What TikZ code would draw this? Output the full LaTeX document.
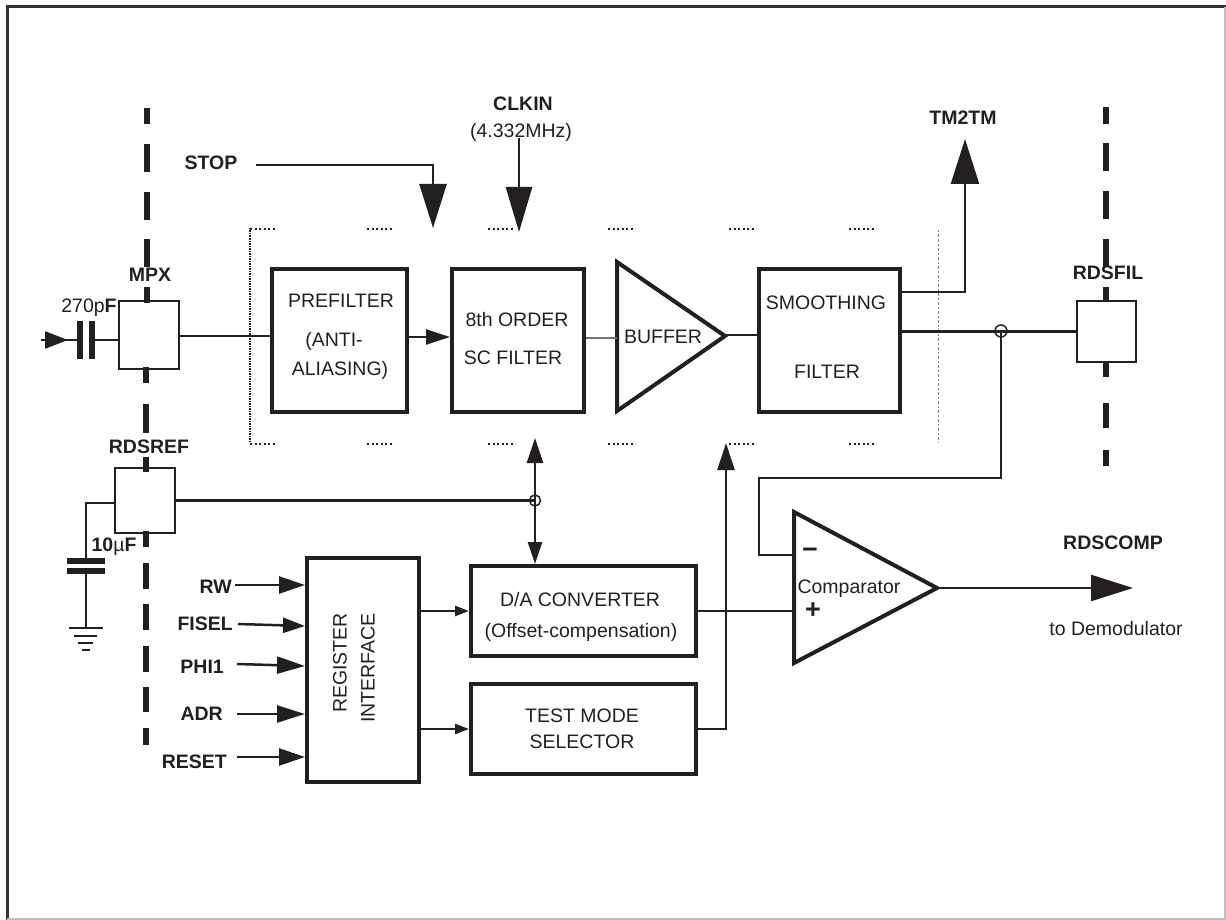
\documentclass[tikz,border=0pt]{standalone}
\usepackage{fontspec}
\setmainfont{Liberation Sans}
\usepackage{tikz}
\usetikzlibrary{positioning,arrows.meta}
\definecolor{ink}{HTML}{231F20}

\begin{document}
\begin{tikzpicture}[
    x=1pt, y=-1pt,
    ink,
    lbl/.style={font=\fontsize{19.5}{22}\selectfont, inner sep=0pt, text=ink},
    boldlbl/.style={font=\fontsize{19.5}{22}\selectfont\bfseries, inner sep=0pt, text=ink},
    box/.style={draw=ink, line width=4pt, minimum width=#1, minimum height=143pt, inner sep=0pt},
    wbox/.style={draw=ink, line width=4pt, minimum width=225pt, minimum height=90pt, inner sep=0pt},
    padbox/.style={draw=ink, line width=2.5pt, minimum width=60pt, minimum height=#1, inner sep=0pt},
    wire/.style={draw=ink, line width=2.5pt},
    junction/.style={circle, draw=ink, line width=1.5pt, minimum size=12pt, inner sep=0pt},
    tri/.style={draw=ink, line width=4pt, miter limit=4},
    pad line/.style={draw=ink, line width=6.5pt},
    plate/.style={draw=ink, line width=6pt},
    tick/.style={draw=ink, line width=2pt, dash pattern=on 2pt off 2.5pt},
    hugetip/.style={-{Triangle[length=44pt,width=27pt]}},
    inputtip/.style={-{Triangle[length=26pt,width=17pt]}},
    smalltip/.style={-{Triangle[length=14pt,width=10pt]}}
]
\useasboundingbox (0,0) rectangle (1226,920);

% frame
\draw[draw=black!80, line width=3pt] (7,920) -- (7,7) -- (1226,7);
\draw[draw=black!25, line width=1.5pt] (1225,7) -- (1225,919) -- (7,919);

% pad lines
\foreach \a/\b in {108/124,144/172,192/220,239/267,287/303}
    \draw[pad line] (147,\a) -- (147,\b);
\foreach \a/\b in {367/383,404/433,457/472,531/547,563/589,604/630,646/672,687/712,728/745}
    \draw[pad line] (146,\a) -- (146,\b);
\foreach \a/\b in {107/124,143/171,191/219,239/267,287/302,363/377,403/428,450/466}
    \draw[pad line] (1106,\a) -- (1106,\b);

% analog part outline
\draw[tick, dash pattern=on 1.5pt off 1pt] (250,228) -- (250,443);
\foreach \x in {250,367,488,608,729,849} {
    \draw[tick] (\x,229) -- ++(27,0);
    \draw[tick] (\x,444) -- ++(27,0);
}
\draw[draw=black!50, line width=1pt, dash pattern=on 2.5pt off 2pt] (938,230) -- (938,443);

% filter chain
\node[box=135pt] (prefilter) at (339.5,340.5) {};
\node[box=132pt, right=41pt of prefilter] (scfilter) {};
\node[box=141pt, right=171pt of scfilter] (smooth) {};
\coordinate (bufin) at (617,338);
\coordinate (bufout) at (725,335);
\draw[tri] (617,262) -- (725,336) -- (617,411) -- cycle;

\node[lbl] (pretxt) at (341,301) {PREFILTER};
\node[lbl] (antitxt) at (334,341) {(ANTI-};
\node[lbl] (aliastxt) at (340,370) {ALIASING)};
\node[lbl] (eighttxt) at (517,320) {8th ORDER};
\node[lbl] (sctxt) at (513,358) {SC FILTER};
\node[lbl] (buftxt) at (663,337) {BUFFER};
\node[lbl] (smtxt) at (826,303) {SMOOTHING};
\node[lbl] (filtxt) at (827,372) {FILTER};

% pads
\node[padbox=68pt] (mpx) at (149,335) {};
\node[padbox=65pt] (rdsref) at (145,500.5) {};
\node[padbox=61pt, minimum width=59pt] (rdsfil) at (1106.5,331.5) {};
\node[boldlbl] (mpxtxt) at (150,275) {MPX};
\node[boldlbl] (rdsreftxt) at (149,447) {RDSREF};
\node[boldlbl] (rdsfiltxt) at (1108,273) {RDSFIL};

% input capacitor
\coordinate (mpxin) at (41,340);
\coordinate (intip) at (68,340);
\coordinate (capa) at (79.5,340);
\coordinate (capb) at (91.5,340);
\coordinate (mpxout) at (179,336);
\draw[wire] (mpxin) -- (capa);
\draw[wire, -{Triangle[length=23pt,width=17pt]}] (mpxin) -- (intip);
\draw[plate] (79.5,321) -- (79.5,359);
\draw[plate] (91.5,321) -- (91.5,359);
\draw[wire] (capb) -- (mpx.west |- capb);
\node[lbl] (cftxt) at (89,308) {270p\textbf{F}};
\draw[wire] (mpxout) -- (prefilter.west |- mpxout);

% lower blocks
\node[draw=ink, line width=4pt, minimum width=112pt, minimum height=224pt, inner sep=0pt] (reg) at (363,670) {};
\node[wbox] (da) at (583.5,611) {};
\node[wbox, below=24pt of da] (test) {};
\node[lbl, rotate=90] (regtxt) at (340,663) {REGISTER};
\node[lbl, rotate=90] (inttxt) at (368,668) {INTERFACE};
\node[lbl] (datxt) at (580,600) {D/A CONVERTER};
\node[lbl] (offtxt) at (581,632) {(Offset-compensation)};
\node[lbl] (testtxt) at (582,716) {TEST MODE};
\node[lbl] (seltxt) at (582,742) {SELECTOR};

% comparator
\draw[tri] (794,512) -- (937,588) -- (794,663) -- cycle;
\coordinate (cmpminus) at (793,555);
\coordinate (cmpplus) at (793,611);
\coordinate (cmpout) at (937,588);
\node[lbl] (cmptxt) at (849,589) {Comparator};
\node[font=\fontsize{27}{27}\selectfont\bfseries, inner sep=0pt, text=ink] (minustxt) at (810,553) {−};
\node[font=\fontsize{27}{27}\selectfont\bfseries, inner sep=0pt, text=ink] (plustxt) at (813,611) {+};

% top signals
\node[boldlbl] (stop) at (211,163) {STOP};
\node[boldlbl] (clkin) at (523,104) {CLKIN};
\node[lbl] (clkfreq) at (521,132) {(4.332MHz)};
\node[boldlbl] (tmtm) at (963,118) {TM2TM};
\coordinate (stopstart) at (256,165);
\coordinate (stoptip) at (433,228);
\coordinate (clkstart) at (519,138);
\coordinate (clktip) at (519,232);
\coordinate (tmstart) at (902,292);
\coordinate (tmtip) at (965,139);
\draw[wire, hugetip] (stopstart) -| (stoptip);
\draw[wire, -{Triangle[length=45pt,width=26pt]}] (clkstart) -- (clktip);
\draw[wire, -{Triangle[length=45pt,width=28pt]}] (tmstart) -| (tmtip);

% chain wires
\coordinate (prearrow) at (409,337);
\draw[wire, -{Triangle[length=24pt,width=15pt]}] (prearrow) -- (scfilter.west |- prearrow);
\draw[draw=black!55, line width=1.2pt] (scfilter.east |- bufin) -- (bufin);
\draw[wire] (bufout) -- (smooth.west |- bufout);

% output and feedback
\node[junction] (jfil) at (1001,331) {};
\coordinate (fbmid) at (759,478);
\draw[wire] (smooth.east |- rdsfil.west) -- (rdsfil.west);
\draw[wire] (jfil.center) |- (fbmid) |- (cmpminus);
\draw[wire] (da.east) -- (cmpplus);
\draw[wire, -{Triangle[length=42pt,width=26pt]}] (cmpout) -- (1133,588);
\node[boldlbl] (rdscomp) at (1113,543) {RDSCOMP};
\node[lbl] (demod) at (1116,629) {to Demodulator};

% reference line
\node[junction, minimum size=11pt] (jref) at (535,500.5) {};
\coordinate (daup) at (535,438);
\draw[wire] (rdsref.east) -- (jref.center);
\draw[wire, -{Triangle[length=25pt,width=16pt]}] (jref.center) -- (daup);
\draw[wire, -{Triangle[length=22pt,width=14pt]}] (jref.center) -- (da.north -| jref);
\coordinate (testup) at (726,443);
\draw[wire, -{Triangle[length=27pt,width=17pt]}] (test.east) -| (testup);
\draw[wire, smalltip] (reg.east |- da.west) -- (da.west);
\draw[wire, smalltip] (reg.east |- test.west) -- (test.west);

% reference capacitor and ground
\coordinate (refcap) at (86,503);
\coordinate (capc) at (86,560);
\coordinate (capd) at (86,570);
\coordinate (gnd) at (86,628);
\draw[wire] (rdsref.west |- refcap) -| (capc);
\draw[wire] (capd) -- (gnd);
\draw[plate] (67,560.5) -- (105,560.5);
\draw[plate] (67,570.5) -- (105,570.5);
\draw[wire] (69,628) -- (103,628);
\draw[wire] (74,636) -- (97,636);
\draw[wire] (78,643) -- (93,643);
\draw[wire] (82,650) -- (90,650);
\node[lbl] (captxt) at (114,547) {\textbf{10}µ\textbf{F}};

% register inputs
\node[boldlbl, anchor=east] (rw) at (232,587) {RW};
\node[boldlbl, anchor=east] (fisel) at (233,624) {FISEL};
\node[boldlbl, anchor=east] (phi) at (224,667) {PHI1};
\node[boldlbl, anchor=east] (adr) at (223,714) {ADR};
\node[boldlbl, anchor=east] (reset) at (227,762) {RESET};
\draw[wire, inputtip] (235,585) -- (reg.west |- 0,585);
\draw[wire, -{Triangle[length=22pt,width=15pt]}] (238,624) -- (reg.west |- 0,626);
\draw[wire, -{Triangle[length=28pt,width=17pt]}] (237,664) -- (reg.west |- 0,666);
\draw[wire, -{Triangle[length=28pt,width=17pt]}] (237,714) -- (reg.west |- 0,714);
\draw[wire, inputtip] (237,757) -- (reg.west |- 0,757);
\end{tikzpicture}
\end{document}
